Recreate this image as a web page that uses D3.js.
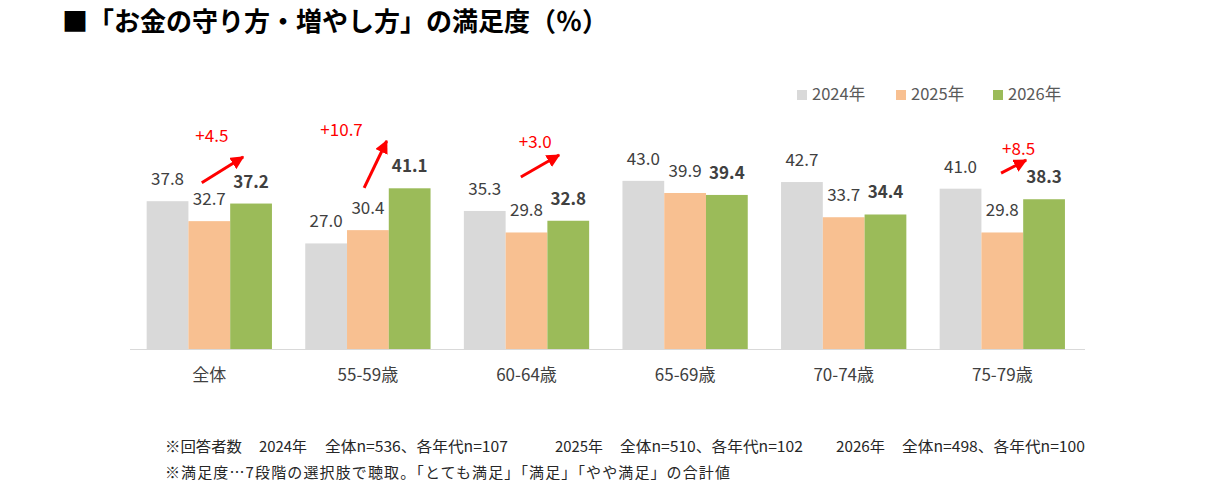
<!DOCTYPE html>
<html>
<head>
<meta charset="utf-8">
<script src="https://cdn.jsdelivr.net/npm/d3@7"></script>
<style>
  body { margin: 0; background: #fff; }
  text { font-family: "Noto Sans CJK JP", "Noto Sans", sans-serif; }
</style>
</head>
<body>
<svg class="chart" width="1220" height="500"></svg>
<script>
var categories = ["全体", "55-59歳", "60-64歳", "65-69歳", "70-74歳", "75-79歳"];
var years = ["2024年", "2025年", "2026年"];
var values2024 = [37.8, 27.0, 35.3, 43.0, 42.7, 41.0];
var values2025 = [32.7, 30.4, 29.8, 39.9, 33.7, 29.8];
var values2026 = [37.2, 41.1, 32.8, 39.4, 34.4, 38.3];
var colors = ["#D9D9D9", "#F8C091", "#9BBB59"];

// change annotations: group index, label, arrow start/tip [band fraction, value], label anchor
var changes = [
    [0, "+4.5",  [0.44, 42.5], [0.77, 49.1], [0.52, 52.9]],
    [1, "+10.7", [0.47, 41.2], [0.65, 53.2], [0.29, 54.5]],
    [2, "+3.0",  [0.455, 44.0], [0.76, 49.6], [0.57, 51.4]],
    [5, "+8.5",  [0.49, 45.0], [0.69, 48.3], [0.63, 49.6]]
];

// footnote pieces: x, width, text
var footnote1 = [
    [165, 77, "※回答者数"], [259, 48, "2024年"], [325, 183, "全体n=536、各年代n=107"],
    [555, 48, "2025年"], [620, 183, "全体n=510、各年代n=102"],
    [836, 49, "2026年"], [902, 183, "全体n=498、各年代n=100"]
];
var footnote2 = "※満足度…7段階の選択肢で聴取。「とても満足」「満足」「やや満足」の合計値";

var series = [values2024, values2025, values2026];

var svg = d3.select('.chart');

// title
svg.append("text")
    .attr("x", 62)
    .attr("y", 31)
    .style("font-size", "26px")
    .style("font-weight", "bold")
    .style("fill", "#000")
    .text("■「お金の守り方・増やし方」の満足度（％）");

var x0 = d3.scaleBand()
    .domain(categories)
    .range([130, 1081.6])
    .paddingInner(0.21)
    .paddingOuter(0.105);

var x1 = d3.scaleBand()
    .domain(d3.range(years.length))
    .range([0, x0.bandwidth()]);

var y = d3.scaleLinear()
    .domain([0, 50])
    .range([349, 153.5]);

// bars
var groups = svg.selectAll("g.grp")
    .data(categories)
    .enter().append("g")
    .attr("class", "grp")
    .attr("transform", function(d) { return "translate(" + x0(d) + ",0)"; });

groups.selectAll("rect")
    .data(function(d, i) { return series.map(function(s, k) { return {k: k, v: s[i]}; }); })
    .enter().append("rect")
    .attr("x", function(d) { return x1(d.k); })
    .attr("y", function(d) { return y(d.v); })
    .attr("width", x1.bandwidth())
    .attr("height", function(d) { return y(0) - y(d.v); })
    .style("fill", function(d) { return colors[d.k]; });

groups.selectAll("text.val")
    .data(function(d, i) { return series.map(function(s, k) { return {k: k, v: s[i]}; }); })
    .enter().append("text")
    .attr("class", "val")
    .attr("x", function(d) { return x1(d.k) + x1.bandwidth() / 2; })
    .attr("y", function(d) { return y(d.v) - 16; })
    .attr("text-anchor", "middle")
    .style("font-size", "17px")
    .style("font-weight", function(d) { return d.k == 2 ? "bold" : "normal"; })
    .style("fill", "#404040")
    .text(function(d) { return d.v.toFixed(1); });

// baseline axis
var xAxis = d3.axisBottom(x0).tickSize(0).tickPadding(20);
var ax = svg.append("g")
    .attr("transform", "translate(0," + y(0) + ")")
    .call(xAxis);
ax.select(".domain").remove();
ax.selectAll("text")
    .style("font-size", "17px")
    .style("fill", "#404040")
    .style("font-family", '"Noto Sans CJK JP", sans-serif');
svg.append("line")
    .attr("x1", 130).attr("x2", 1085)
    .attr("y1", y(0) + 0.5).attr("y2", y(0) + 0.5)
    .style("stroke", "#D9D9D9")
    .style("stroke-width", 1.2);

// arrows
svg.append("defs").append("marker")
    .attr("id", "head")
    .attr("viewBox", "0 0 10 10")
    .attr("refX", 9).attr("refY", 5)
    .attr("markerWidth", 4.5).attr("markerHeight", 4.5)
    .attr("orient", "auto")
    .append("path")
    .attr("d", "M0,0 L10,5 L0,10 Z")
    .style("fill", "#FF0000");

function px(g, f) { return x0(categories[g]) + f * x0.bandwidth(); }

svg.selectAll("line.arrow")
    .data(changes)
    .enter().append("line")
    .attr("class", "arrow")
    .attr("x1", function(d) { return px(d[0], d[2][0]); })
    .attr("y1", function(d) { return y(d[2][1]); })
    .attr("x2", function(d) { return px(d[0], d[3][0]); })
    .attr("y2", function(d) { return y(d[3][1]); })
    .style("stroke", "#FF0000")
    .style("stroke-width", 3)
    .attr("marker-end", "url(#head)");

svg.selectAll("text.delta")
    .data(changes)
    .enter().append("text")
    .attr("class", "delta")
    .attr("x", function(d) { return px(d[0], d[4][0]); })
    .attr("y", function(d) { return y(d[4][1]); })
    .attr("text-anchor", "middle")
    .style("font-size", "17px")
    .style("fill", "#FF0000")
    .text(function(d) { return d[1]; });

// legend
var legendX = [797, 896, 993];
var legend = svg.selectAll("g.leg")
    .data(years)
    .enter().append("g")
    .attr("class", "leg")
    .attr("transform", function(d, i) { return "translate(" + legendX[i] + ",90)"; });
legend.append("rect")
    .attr("width", 10).attr("height", 10)
    .style("fill", function(d, i) { return colors[i]; });
legend.append("text")
    .attr("x", 15).attr("y", 9.5)
    .style("font-size", "16.5px")
    .style("fill", "#595959")
    .text(function(d) { return d; });

// footnotes
var fn = svg.append("g")
    .style("font-size", "15px")
    .style("fill", "#262626");
fn.selectAll("text")
    .data(footnote1)
    .enter().append("text")
    .attr("x", function(d) { return d[0]; })
    .attr("y", 452)
    .attr("textLength", function(d) { return d[1]; })
    .attr("lengthAdjust", "spacingAndGlyphs")
    .text(function(d) { return d[2]; });

fn.append("text")
    .attr("x", 165).attr("y", 478)
    .attr("textLength", 565)
    .attr("lengthAdjust", "spacing")
    .text(footnote2);
</script>
</body>
</html>
